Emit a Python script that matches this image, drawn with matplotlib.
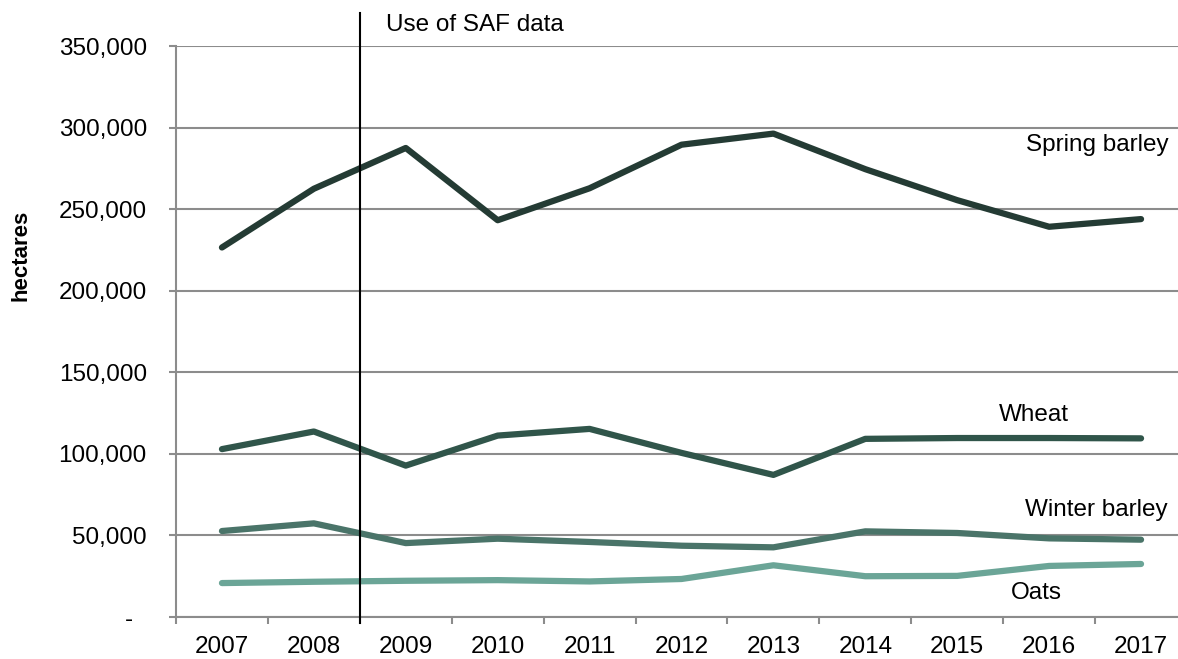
import matplotlib.pyplot as plt
from matplotlib.ticker import FuncFormatter, FixedLocator

plt.rcParams['font.family'] = ['Liberation Sans', 'DejaVu Sans']

years = ['2007', '2008', '2009', '2010', '2011', '2012',
         '2013', '2014', '2015', '2016', '2017']

spring_barley = [226500, 262500, 287500, 243200, 262800, 289500,
                 296300, 274500, 255500, 239200, 243900]
wheat = [102900, 113700, 92800, 111200, 115300, 100600,
         87100, 109200, 109700, 109700, 109500]
winter_barley = [52700, 57400, 45300, 48000, 46000, 43700,
                 42700, 52500, 51500, 48200, 47400]
oats = [20800, 21600, 22200, 22600, 21800, 23300,
        31700, 25000, 25200, 31300, 32500]

series = [
    ('Spring barley', spring_barley, '#243b34'),
    ('Wheat', wheat, '#30554a'),
    ('Winter barley', winter_barley, '#4a7469'),
    ('Oats', oats, '#6ba597'),
]

fig = plt.figure(figsize=(11.78, 6.59), dpi=100)
ax = fig.add_axes([176/1178, 1 - 617/659, (1187 - 176)/1178, (617 - 46)/659])

x = list(range(len(years)))
for name, vals, col in series:
    ax.plot(x, vals, color=col, lw=4.5, solid_capstyle='round',
            solid_joinstyle='round', zorder=3)

ax.set_xlim(-0.5, len(years) - 0.5)
ax.set_ylim(0, 350000)
ax.set_yticks(range(0, 350001, 50000))

def fmt(v, pos):
    if v == 0:
        return '-  '
    return f'{int(v):,}'

ax.yaxis.set_major_formatter(FuncFormatter(fmt))
ax.grid(axis='y', color='#8c8c8c', lw=1.5)
ax.set_axisbelow(True)

ax.set_xticks(x)
ax.set_xticklabels(years)
ax.xaxis.set_minor_locator(FixedLocator([i - 0.5 for i in range(len(years) + 1)]))
ax.tick_params(axis='x', which='major', length=0, pad=14, labelsize=17.5)
ax.tick_params(axis='x', which='minor', length=5, width=1.5, color='#8c8c8c')
ax.tick_params(axis='y', length=5, width=1.5, color='#8c8c8c', pad=16, labelsize=17.5)

for s in ['top', 'right']:
    ax.spines[s].set_visible(False)
for s in ['left', 'bottom']:
    ax.spines[s].set_color('#8c8c8c')
    ax.spines[s].set_linewidth(1.5)

# SAF marker line
ax.axvline(1.5, ymin=-0.011, ymax=1.058, color='black', lw=1.5, clip_on=False, zorder=4)
ax.text(1.79, 362900, 'Use of SAF data', fontsize=17.5, va='center', ha='left')

ax.text(8.75, 289200, 'Spring barley', fontsize=17.5, va='center', ha='left')
ax.text(8.83, 124000, 'Wheat', fontsize=17.5, va='center', ha='center')
ax.text(8.74, 65600, 'Winter barley', fontsize=17.5, va='center', ha='left')
ax.text(8.86, 14700, 'Oats', fontsize=17.5, va='center', ha='center')

fig.text(21/1178, 1 - 255/659, 'hectares', rotation=90, fontsize=16,
         fontweight='bold', ha='center', va='center')

fig.savefig('out.png', dpi=100)
